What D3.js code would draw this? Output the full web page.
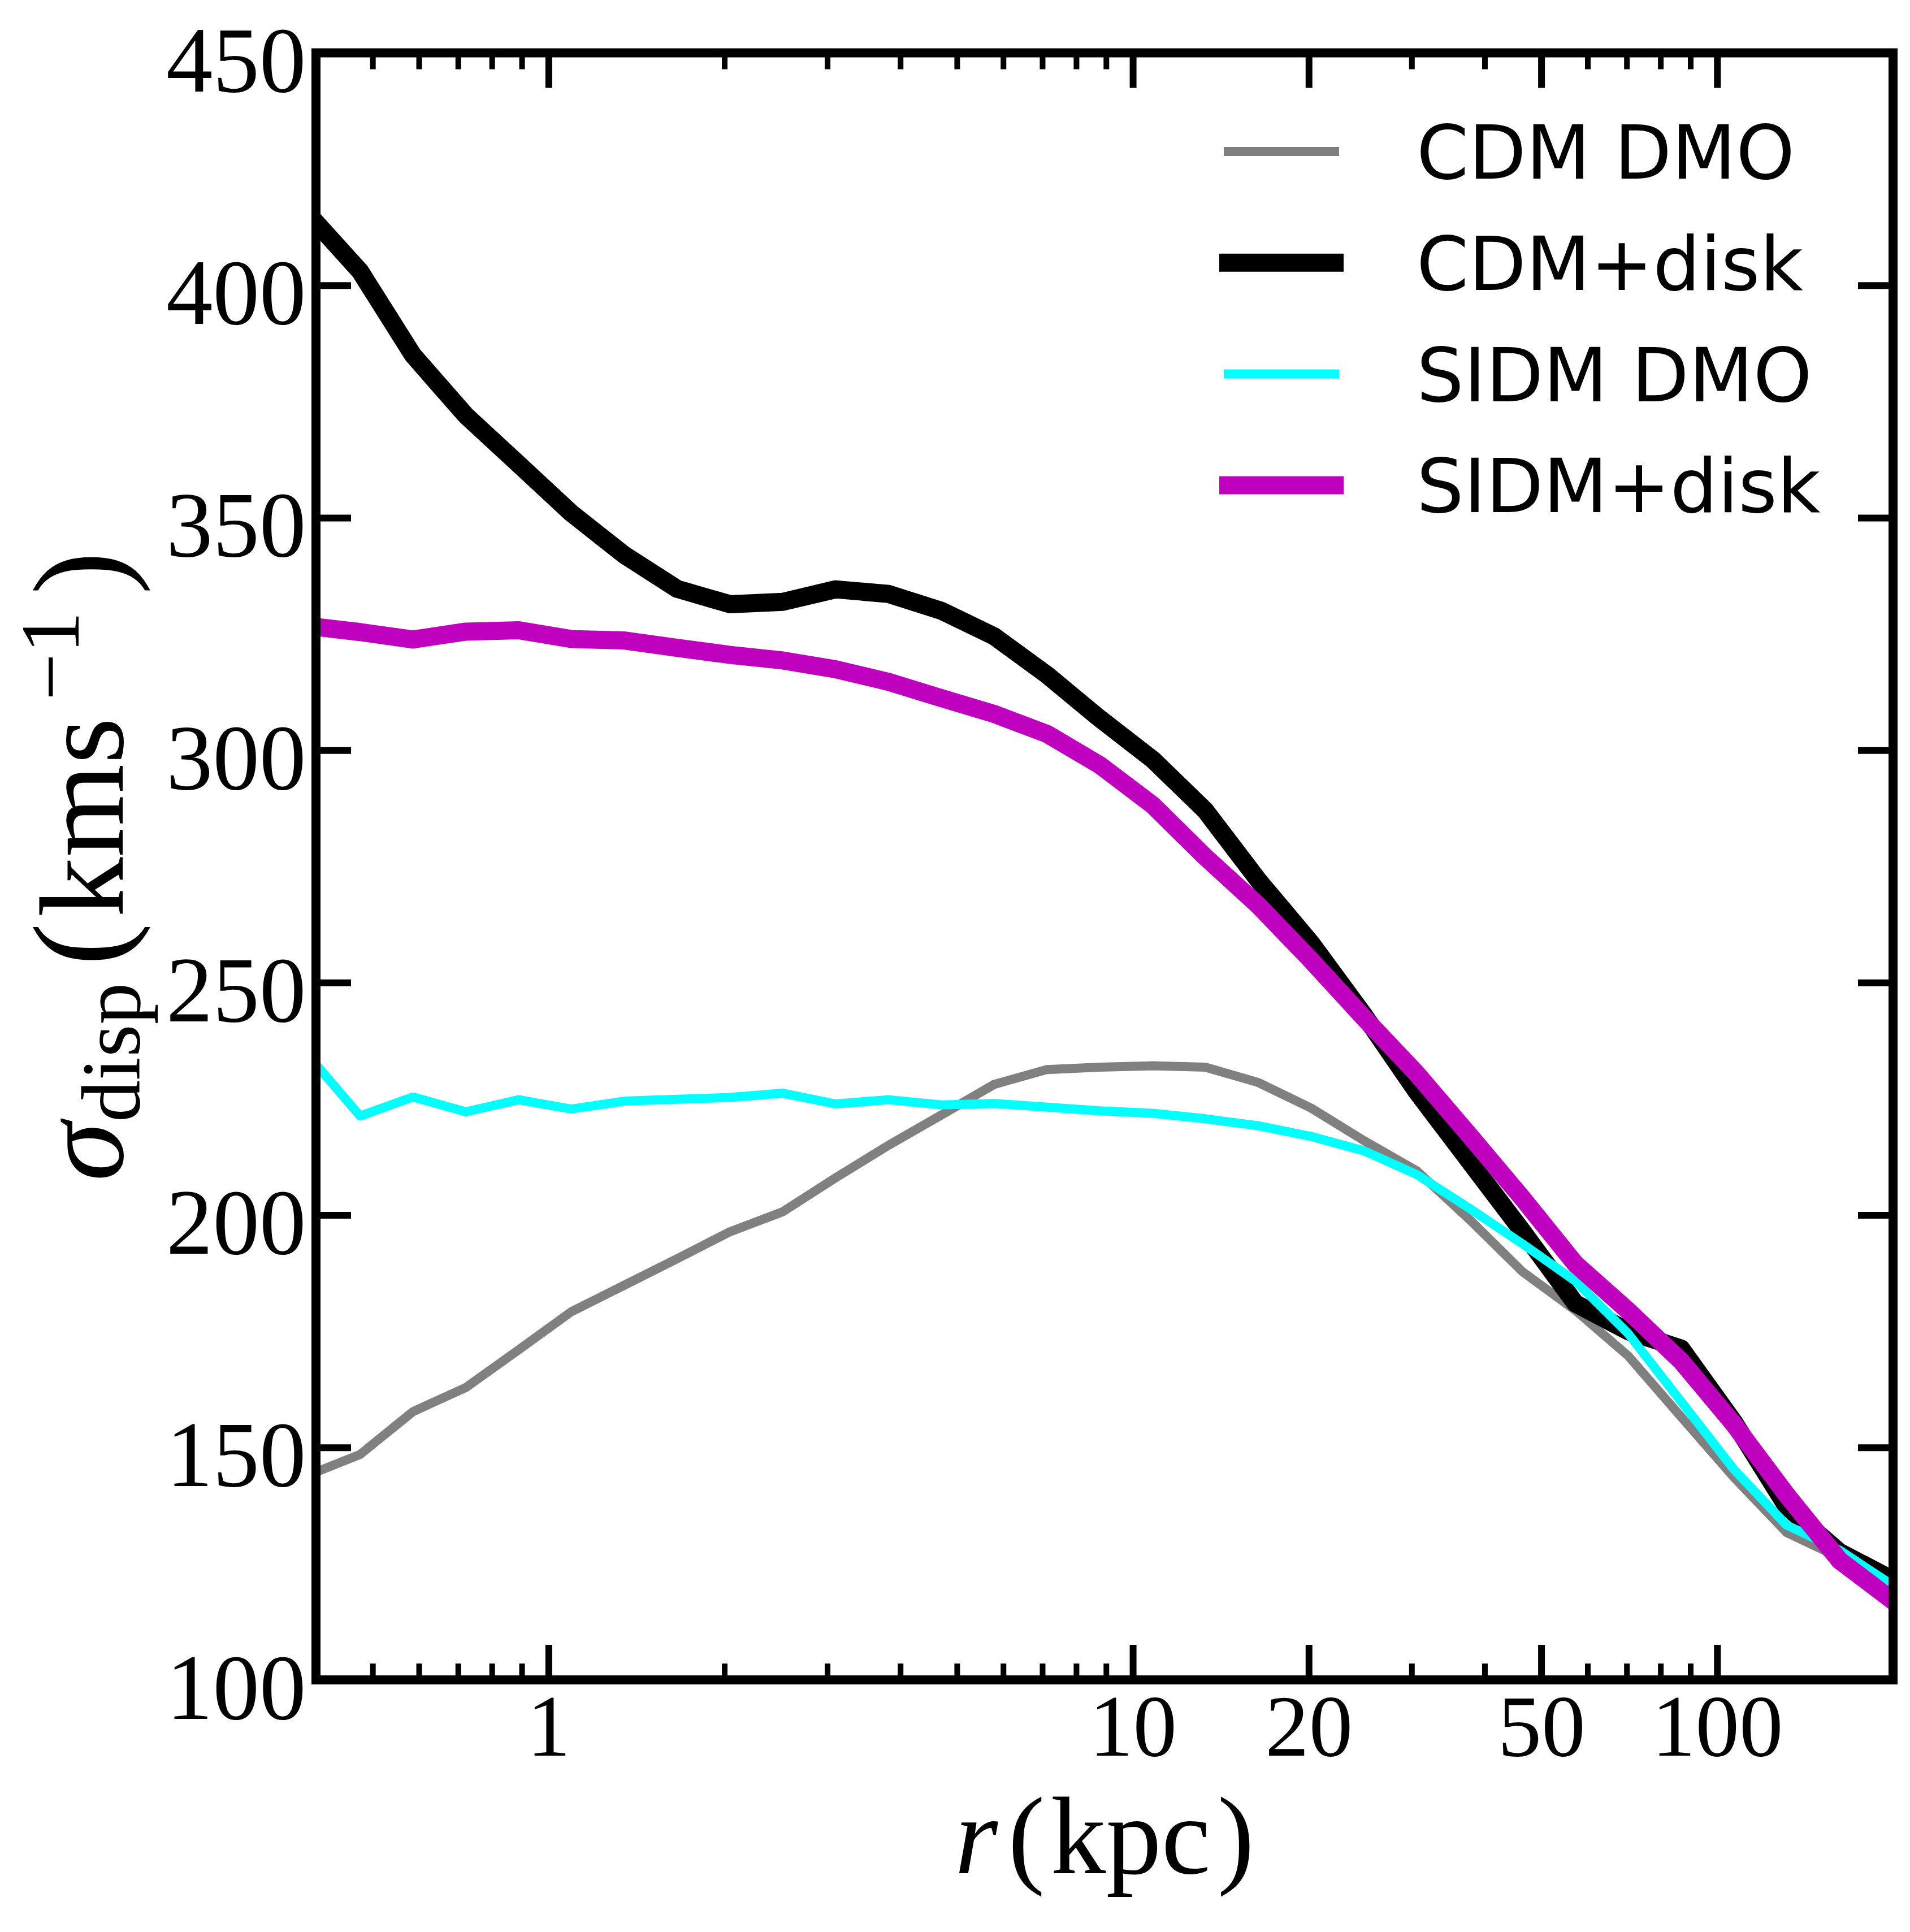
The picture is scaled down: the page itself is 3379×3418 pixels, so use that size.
<!DOCTYPE html>
<html>
<head>
<meta charset="utf-8">
<script src="https://cdn.jsdelivr.net/npm/d3@7"></script>
<style>
  html, body { margin: 0; padding: 0; background: #fff; }
  svg { display: block; }
</style>
</head>
<body>
<div id="chart"></div>
<script>
// radial bins (kpc)
var radius = [0.4, 0.476, 0.586, 0.722, 0.889, 1.094, 1.348, 1.660, 2.044, 2.517, 3.099,
  3.817, 4.700, 5.789, 7.129, 8.778, 10.81, 13.31, 16.40, 20.19, 24.87,
  30.62, 37.71, 46.44, 57.19, 70.43, 86.74, 106.8, 131.5, 162.0, 200];

// velocity dispersion (km/s)
var cdmDmo = [144.7, 148.5, 157.7, 162.9, 171.0, 179.2, 184.9, 190.6, 196.4, 200.7, 208.0,
  215.0, 221.5, 228.1, 231.3, 231.8, 232.1, 231.8, 228.5, 223.0, 216.0,
  209.5, 199.0, 187.8, 179.5, 169.7, 156.6, 143.6, 131.7, 126.3, 120.3];
var cdmDisk = [413.5, 403, 385, 372, 361.5, 351, 342, 334.7, 331.4, 331.9, 334.6,
  333.6, 330, 324.5, 316.2, 306.8, 298, 287, 272, 258.5, 243,
  226.5, 211.5, 196.5, 181, 175, 171.3, 155.5, 137.3, 127.5, 121.5];
var sidmDmo = [232.4, 221.3, 225.4, 222.2, 224.8, 222.8, 224.5, 224.9, 225.3, 226.2, 223.9,
  224.8, 223.7, 224.0, 223.2, 222.4, 221.9, 220.7, 219.2, 216.9, 213.8,
  208.7, 201.4, 193.8, 185.8, 174.5, 159.9, 145.3, 133.3, 127.9, 120.3];
var sidmDisk = [326.5, 325.4, 323.8, 325.5, 325.8, 323.9, 323.6, 322.0, 320.5, 319.3, 317.4,
  314.7, 311.2, 307.8, 303.5, 296.8, 288.2, 277.0, 266.6, 254.8, 242.4,
  230.4, 217.1, 203.6, 189.5, 179.4, 168.6, 155.0, 139.8, 125.7, 117.0];

var seriesNames = ["CDM DMO", "CDM+disk", "SIDM DMO", "SIDM+disk"];
var xMajorTicks = [1, 10, 20, 50, 100];
var xTickLabels = ["1", "10", "20", "50", "100"];
var yTicks = [100, 150, 200, 250, 300, 350, 400, 450];

var W = 3379, H = 3418;
var margin = {top: 93.5, right: 30, bottom: 446, left: 559};
var plotW = W - margin.left - margin.right;
var plotH = H - margin.top - margin.bottom;

var x = d3.scaleLog().domain([0.4, 200]).range([0, plotW]);
var y = d3.scaleLinear().domain([100, 450]).range([plotH, 0]);

var series = [
  {name: seriesNames[0], values: cdmDmo,  color: "#808080", width: 16},
  {name: seriesNames[1], values: cdmDisk, color: "#000000", width: 32},
  {name: seriesNames[2], values: sidmDmo, color: "#00ffff", width: 16},
  {name: seriesNames[3], values: sidmDisk, color: "#bf00bf", width: 32}
];

var svg = d3.select("#chart").append("svg")
  .attr("width", W)
  .attr("height", H)
  .style("background", "#fff");

var g = svg.append("g")
  .attr("transform", "translate(" + margin.left + "," + margin.top + ")");

g.append("clipPath").attr("id", "plotClip")
  .append("rect")
  .attr("width", plotW)
  .attr("height", plotH);

var line = d3.line()
  .x(function (d) { return x(d.r); })
  .y(function (d) { return y(d.v); });

series.forEach(function (s) {
  var pts = radius.map(function (r, i) { return {r: r, v: s.values[i]}; });
  g.append("path")
    .datum(pts)
    .attr("clip-path", "url(#plotClip)")
    .attr("fill", "none")
    .attr("stroke", s.color)
    .attr("stroke-width", s.width)
    .attr("stroke-linejoin", "round")
    .attr("stroke-linecap", "square")
    .attr("d", line);
});

// ---- ticks (all pointing inward) ----
var minorTicks = x.ticks().filter(function (t) {
  return xMajorTicks.indexOf(t) < 0 && t > 0.4 && t < 200;
});
var serif = "'Liberation Serif', 'Times New Roman', serif";

function styleTicks(sel, w) {
  sel.select(".domain").remove();
  sel.selectAll(".tick line").attr("stroke", "#000").attr("stroke-width", w);
}

var xBottom = g.append("g").attr("transform", "translate(0," + plotH + ")")
  .call(d3.axisBottom(x).tickValues(xMajorTicks).tickSizeInner(-62).tickSizeOuter(0)
    .tickFormat(function (d, i) { return xTickLabels[i]; }));
styleTicks(xBottom, 12);
xBottom.selectAll(".tick text")
  .attr("y", 134).attr("dy", null)
  .attr("fill", "#000")
  .style("font-family", serif)
  .style("font-size", "155px");

var xBottomMinor = g.append("g").attr("transform", "translate(0," + plotH + ")")
  .call(d3.axisBottom(x).tickValues(minorTicks).tickSizeInner(-29).tickSizeOuter(0).tickFormat(""));
styleTicks(xBottomMinor, 10);

var xTop = g.append("g")
  .call(d3.axisTop(x).tickValues(xMajorTicks).tickSizeInner(-62).tickSizeOuter(0).tickFormat(""));
styleTicks(xTop, 12);
var xTopMinor = g.append("g")
  .call(d3.axisTop(x).tickValues(minorTicks).tickSizeInner(-29).tickSizeOuter(0).tickFormat(""));
styleTicks(xTopMinor, 10);

var yLeft = g.append("g")
  .call(d3.axisLeft(y).tickValues(yTicks).tickSizeInner(-62).tickSizeOuter(0).tickPadding(17.5)
    .tickFormat(d3.format("d")));
styleTicks(yLeft, 12);
yLeft.selectAll(".tick text")
  .attr("dy", 68)
  .attr("fill", "#000")
  .style("font-family", serif)
  .style("font-size", "165px");

var yRight = g.append("g").attr("transform", "translate(" + plotW + ",0)")
  .call(d3.axisRight(y).tickValues(yTicks).tickSizeInner(-62).tickSizeOuter(0).tickFormat(""));
styleTicks(yRight, 12);

// frame
g.append("rect")
  .attr("width", plotW)
  .attr("height", plotH)
  .attr("fill", "none")
  .attr("stroke", "#000")
  .attr("stroke-width", 16);

// ---- axis labels ----
var xLab = svg.append("text")
  .attr("x", margin.left + plotW / 2)
  .attr("y", 3314)
  .attr("text-anchor", "middle")
  .attr("fill", "#000")
  .style("font-family", serif)
  .style("font-size", "196px");
xLab.append("tspan").style("font-style", "italic").text("r");
xLab.append("tspan").attr("dx", 18).text("(");
xLab.append("tspan").attr("dx", 10).text("kpc");
xLab.append("tspan").attr("dx", 12).text(")");

var yLab = svg.append("text")
  .attr("transform", "translate(217," + (margin.top + plotH / 2) + ") rotate(-90)")
  .attr("text-anchor", "middle")
  .attr("fill", "#000")
  .style("font-family", serif)
  .style("font-size", "212px");
yLab.append("tspan").style("font-style", "italic").text("σ");
yLab.append("tspan").attr("dy", 30).style("font-size", "148px").text("disp");
yLab.append("tspan").attr("dy", -30).attr("dx", 30).style("font-size", "228px").text("(");
yLab.append("tspan").attr("dx", 10).text("kms");
yLab.append("tspan").attr("dy", -78).attr("dx", 30).style("font-size", "148px").text("−1");
yLab.append("tspan").attr("dy", 78).attr("dx", 30).style("font-size", "228px").text(")");

// ---- legend ----
var legend = svg.append("g");
series.forEach(function (s, i) {
  var ly = 268 + i * 196.8;
  legend.append("line")
    .attr("x1", 2173).attr("x2", 2361)
    .attr("y1", ly).attr("y2", ly)
    .attr("stroke", s.color)
    .attr("stroke-width", s.width)
    .attr("stroke-linecap", "square");
  legend.append("text")
    .attr("x", 2506)
    .attr("y", ly + 48)
    .attr("fill", "#000")
    .style("font-family", "'DejaVu Sans', sans-serif")
    .style("font-size", "132px")
    .text(s.name);
});
</script>
</body>
</html>
